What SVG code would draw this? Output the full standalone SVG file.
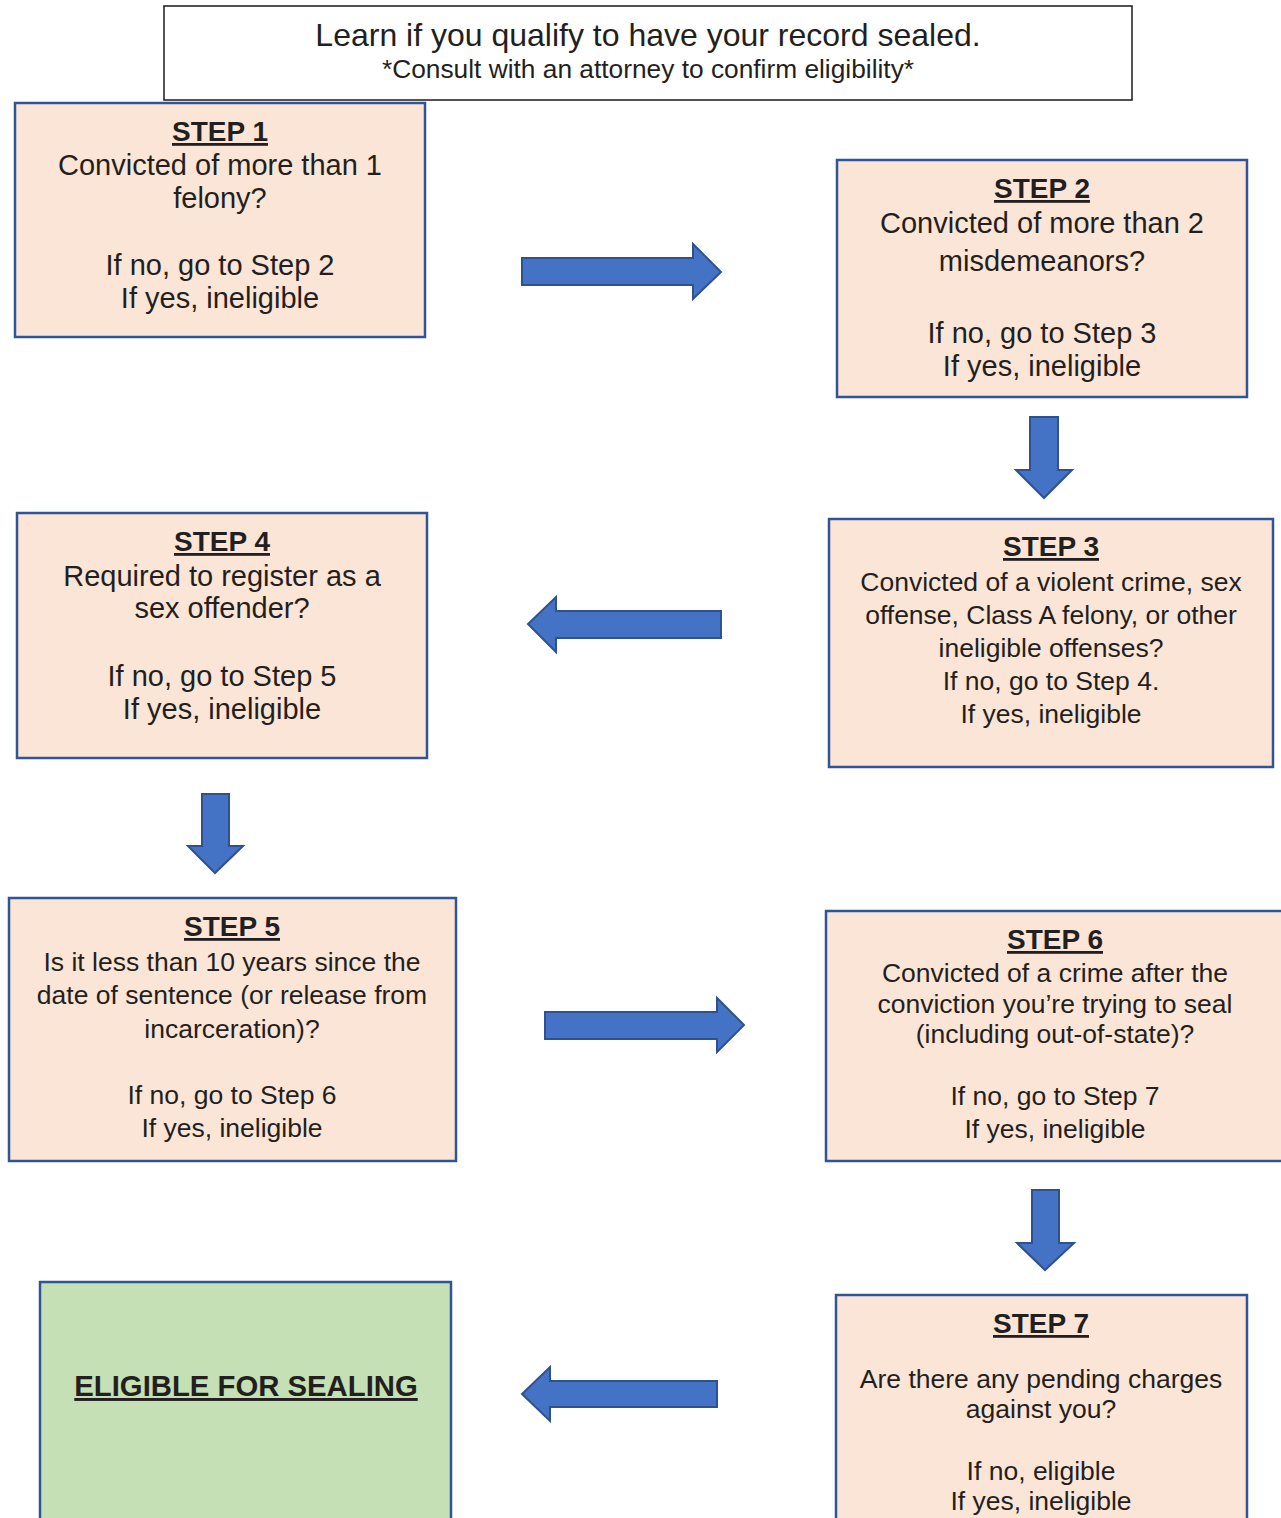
<svg xmlns="http://www.w3.org/2000/svg" width="1281" height="1518" viewBox="0 0 1281 1518">
<style>
.box{fill:#FBE5D6;stroke:#2F5597;stroke-width:2.5}
.green{fill:#C5E0B4;stroke:#2F5597;stroke-width:2.5}
.hdr{fill:#FFFFFF;stroke:#1A1A1A;stroke-width:1.5}
.arrow{fill:#4472C4;stroke:#2F528F;stroke-width:2}
text{font-family:"Liberation Sans",Arial,sans-serif;fill:#231F20;text-anchor:middle}
.t{font-size:29px}
.s{font-size:26.5px}
.h{font-size:28px;font-weight:bold;text-decoration:underline}
</style>
<rect x="0" y="0" width="1281" height="1518" fill="#FFFFFF"/>
<g id="header">
<rect class="hdr" x="164" y="6" width="968" height="94"/>
<text x="648" y="46" style="font-size:32px">Learn if you qualify to have your record sealed.</text>
<text x="648" y="78" style="font-size:26.3px">*Consult with an attorney to confirm eligibility*</text>
</g>
<g id="step1">
<rect class="box" x="15" y="103" width="410" height="234"/>
<text class="h" x="220" y="141">STEP 1</text>
<text class="t" x="220" y="175">Convicted of more than 1</text>
<text class="t" x="220" y="208">felony?</text>
<text class="t" x="220" y="275">If no, go to Step 2</text>
<text class="t" x="220" y="308">If yes, ineligible</text>
</g>
<g id="step2">
<rect class="box" x="837" y="160" width="410" height="237"/>
<text class="h" x="1042" y="198">STEP 2</text>
<text class="t" x="1042" y="233">Convicted of more than 2</text>
<text class="t" x="1042" y="271">misdemeanors?</text>
<text class="t" x="1042" y="343">If no, go to Step 3</text>
<text class="t" x="1042" y="376">If yes, ineligible</text>
</g>
<g id="step3">
<rect class="box" x="829" y="519" width="444" height="248"/>
<text class="h" x="1051" y="556">STEP 3</text>
<text class="s" x="1051" y="591">Convicted of a violent crime, sex</text>
<text class="s" x="1051" y="624">offense, Class A felony, or other</text>
<text class="s" x="1051" y="657">ineligible offenses?</text>
<text class="s" x="1051" y="690">If no, go to Step 4.</text>
<text class="s" x="1051" y="723">If yes, ineligible</text>
</g>
<g id="step4">
<rect class="box" x="17" y="513" width="410" height="245"/>
<text class="h" x="222" y="551">STEP 4</text>
<text class="t" x="222" y="586">Required to register as a</text>
<text class="t" x="222" y="618">sex offender?</text>
<text class="t" x="222" y="686">If no, go to Step 5</text>
<text class="t" x="222" y="719">If yes, ineligible</text>
</g>
<g id="step5">
<rect class="box" x="9" y="898" width="447" height="263"/>
<text class="h" x="232" y="936">STEP 5</text>
<text class="s" x="232" y="971">Is it less than 10 years since the</text>
<text class="s" x="232" y="1004">date of sentence (or release from</text>
<text class="s" x="232" y="1038">incarceration)?</text>
<text class="s" x="232" y="1104">If no, go to Step 6</text>
<text class="s" x="232" y="1137">If yes, ineligible</text>
</g>
<g id="step6">
<rect class="box" x="826" y="911" width="460" height="250"/>
<text class="h" x="1055" y="949">STEP 6</text>
<text class="s" x="1055" y="982">Convicted of a crime after the</text>
<text class="s" x="1055" y="1013">conviction you’re trying to seal</text>
<text class="s" x="1055" y="1043">(including out-of-state)?</text>
<text class="s" x="1055" y="1105">If no, go to Step 7</text>
<text class="s" x="1055" y="1138">If yes, ineligible</text>
</g>
<g id="step7">
<rect class="box" x="836" y="1295" width="411" height="240"/>
<text class="h" x="1041" y="1333">STEP 7</text>
<text class="s" x="1041" y="1388">Are there any pending charges</text>
<text class="s" x="1041" y="1418">against you?</text>
<text class="s" x="1041" y="1480">If no, eligible</text>
<text class="s" x="1041" y="1510">If yes, ineligible</text>
</g>
<g id="eligible">
<rect class="green" x="40" y="1282" width="411" height="250"/>
<text x="246" y="1396" style="font-size:29.3px;font-weight:bold;text-decoration:underline">ELIGIBLE FOR SEALING</text>
</g>
<g id="connectors">
<polygon class="arrow" points="522,258 693,258 693,244 721,272 693,299 693,285 522,285"/>
<polygon class="arrow" points="1030,417 1058,417 1058,470 1072,470 1044,498 1016,470 1030,470"/>
<polygon class="arrow" points="721,611 556,611 556,597 528,624 556,652 556,638 721,638"/>
<polygon class="arrow" points="202,794 229,794 229,846 243,846 215,873 188,846 202,846"/>
<polygon class="arrow" points="545,1012 717,1012 717,998 744,1025 717,1052 717,1039 545,1039"/>
<polygon class="arrow" points="1032,1190 1059,1190 1059,1243 1074,1243 1045,1270 1017,1243 1032,1243"/>
<polygon class="arrow" points="717,1381 550,1381 550,1367 522,1394 550,1421 550,1407 717,1407"/>
</g>
</svg>
